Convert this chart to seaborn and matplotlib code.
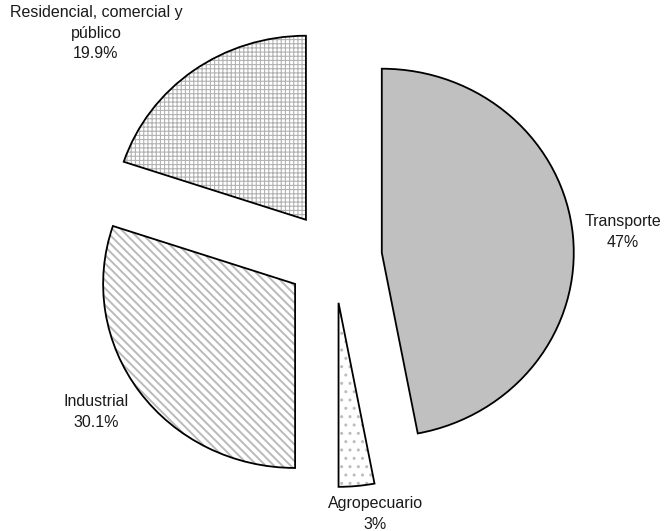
import matplotlib.pyplot as plt
import seaborn as sns

# consumo de energia por sector (%)
sectores = ['Transporte', 'Agropecuario', 'Industrial', 'Residencial, comercial y\npúblico']
porcentajes = [47.0, 3.0, 30.1, 19.9]
etiquetas_pct = ['47%', '3%', '30.1%', '19.9%']

colores = ['#c0c0c0', 'white', 'white', 'white']
tramas = ['', '..', '\\\\\\\\', '++++']
color_trama = ['#b2b2b2', '#bdbdbd', '#bababa', '#b2b2b2']
grosor_trama = [0.8, 1.0, 1.4, 0.8]
explode = [0.25, 0.25, 0.25, 0.25]
pos_etiquetas = [(1.505, 0.136), (0.214, -1.397), (-1.240, -0.842), (-1.240, 1.217)]

sns.set_theme(style='white')
plt.rcParams['font.family'] = ['Liberation Sans', 'DejaVu Sans']
plt.rcParams['hatch.linewidth'] = 0.8

fig = plt.figure(figsize=(6.64, 5.31), dpi=100)
ax = fig.add_axes([0, 0, 1, 1])

# relleno con tramas grises
cuñas, _ = ax.pie(porcentajes, explode=explode, colors=colores, hatch=tramas,
                  startangle=90, counterclock=False, radius=1,
                  wedgeprops=dict(linewidth=0))
for c, col, g in zip(cuñas, color_trama, grosor_trama):
    c.set_edgecolor(col)
    if hasattr(c, 'set_hatch_linewidth'):
        c.set_hatch_linewidth(g)
    else:
        c._hatch_linewidth = g
# contornos negros
ax.pie(porcentajes, explode=explode, startangle=90, counterclock=False, radius=1,
       wedgeprops=dict(fill=False, linewidth=1.3, edgecolor='black'))

for nombre, pct, (x, y) in zip(sectores, etiquetas_pct, pos_etiquetas):
    ax.text(x, y, f'{nombre}\n{pct}', ha='center', va='center', fontsize=11.5,
            color='#1a1a1a', linespacing=1.45)

ax.set_aspect('auto')
ax.set_xlim(-1.740, 1.719)
ax.set_ylim(-1.489, 1.397)
ax.axis('off')

plt.savefig('out.png', dpi=100)
